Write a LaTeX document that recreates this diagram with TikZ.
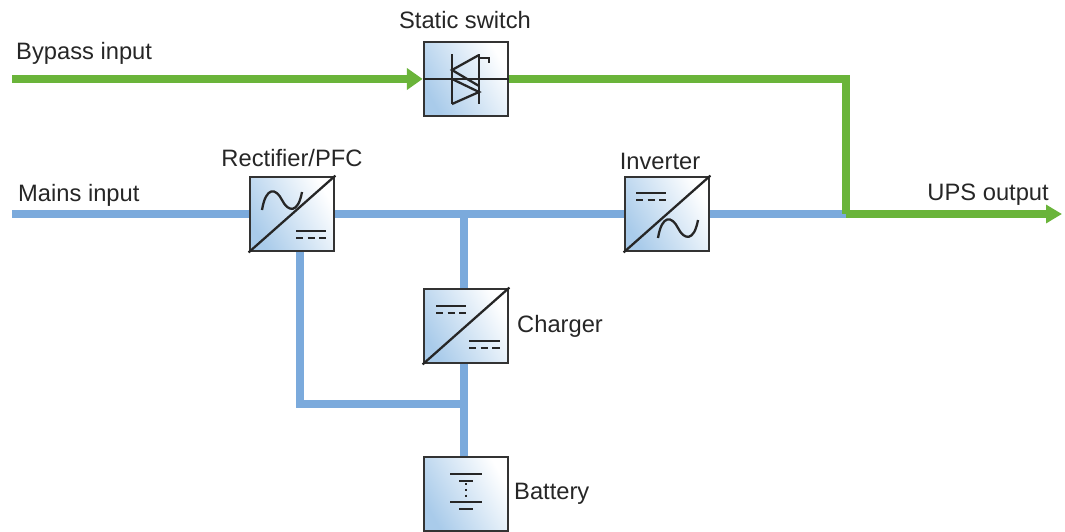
\documentclass[tikz,border=0pt]{standalone}
\usepackage{fontspec}
\setmainfont{Liberation Sans}
\usetikzlibrary{arrows.meta}
\definecolor{gr}{HTML}{6AB43A}
\definecolor{bl}{HTML}{7BAADC}
\definecolor{bx}{HTML}{A9CBEA}
\begin{document}
\begin{tikzpicture}[x=0.02cm,y=-0.02cm,
  box/.style={draw=black!80,line width=1.6pt,minimum width=1.68cm,minimum height=1.48cm,inner sep=0,
    left color=bx,right color=white,shading angle=120},
  gl/.style={gr,line width=5pt},
  bll/.style={bl,line width=5pt},
  sym/.style={black!85,line width=1.3pt},
  dsh/.style={sym,dash pattern=on 4.2pt off 2.4pt},
  lab/.style={font=\fontsize{13.5}{16}\selectfont,text=black!85}]
\useasboundingbox (0,0) rectangle (1065,531);
% nodes
\node[box] (ss) at (466,79) {};
\node[box] (rec) at (292,214) {};
\node[box] (inv) at (667,214) {};
\node[box] (chg) at (466,326) {};
\node[box] (bat) at (466,494) {};
\coordinate (bin) at (12,79);
\coordinate (min) at (12,214);
\coordinate (out) at (1062,214);
\coordinate (j) at (846,214);
\coordinate (t) at (464,214);
\coordinate (b) at (464,404);
% lines
\draw[bll] (min) -- (rec.west);
\draw[bll] (rec.east) -- (inv.west);
\draw[bll] (inv.east) -- (j);
\draw[bll] (t) -- (t|-chg.north);
\draw[bll] (b|-chg.south) -- (b|-bat.north);
\draw[bll] (rec.south-|300,0) |- (b);
\draw[gl,-{Triangle[length=9pt,width=12pt]}] (bin) -- (ss.west);
\draw[gl] (ss.east) -- (846,79) -- (j);
\draw[gl,-{Triangle[length=9pt,width=10pt]}] (j) -- (out);
% boxes on top
\node[box] at (ss) {};
\node[box] at (rec) {};
\node[box] at (inv) {};
\node[box] at (chg) {};
\node[box] at (bat) {};
% static switch symbol
\draw[sym] (ss.west) -- (ss.east);
\draw[sym] (452,54) -- (452,104);
\draw[sym] (479,54) -- (479,104);
\draw[sym] (479,58) -- (489,58) -- (489,63);
\draw[sym] (479,55) -- (452,70) -- (479,86);
\draw[sym] (452,79) -- (479,92) -- (452,104);
% rectifier
\draw[sym] (rec.south west) -- (rec.north east);
\draw[sym] (262,210) .. controls (266,186) and (276,188) .. (282,200) .. controls (288,212) and (298,214) .. (302,192);
\draw[sym] (296,231) -- (326,231);
\draw[dsh] (296,238) -- (326,238);
% inverter
\draw[sym] (inv.south west) -- (inv.north east);
\draw[sym] (636,193) -- (666,193);
\draw[dsh] (636,200) -- (666,200);
\draw[sym] (658,238) .. controls (662,214) and (672,216) .. (678,228) .. controls (684,240) and (694,242) .. (698,220);
% charger
\draw[sym] (chg.south west) -- (chg.north east);
\draw[sym] (436,306) -- (466,306);
\draw[dsh] (436,313) -- (466,313);
\draw[sym] (469,341) -- (500,341);
\draw[dsh] (469,348) -- (500,348);
% battery
\draw[sym] (450,474) -- (482,474);
\draw[sym] (459,481) -- (473,481);
\draw[sym,dotted] (466,483) -- (466,500);
\draw[sym] (450,502) -- (482,502);
\draw[sym] (459,509) -- (473,509);
% labels
\node[lab,anchor=west] (l1) at (10,53) {Bypass input};
\node[lab] (l2) at (465,20) {Static switch};
\node[lab] (l3) at (292,158) {Rectifier/PFC};
\node[lab,anchor=west] (l4) at (12,195) {Mains input};
\node[lab] (l5) at (660,161) {Inverter};
\node[lab,anchor=east] (l6) at (1055,195) {UPS output};
\node[lab,anchor=west] (l7) at (511,326) {Charger};
\node[lab,anchor=west] (l8) at (508,494) {Battery};
\end{tikzpicture}
\end{document}
